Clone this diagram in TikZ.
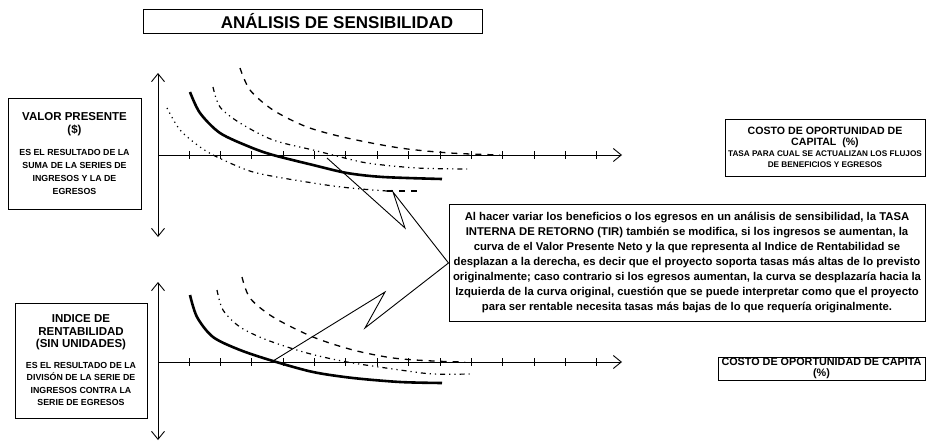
\documentclass[tikz,border=0pt]{standalone}
\usepackage{fontspec}
\setmainfont{Liberation Sans}
\usetikzlibrary{arrows.meta}
\tikzset{
	caja/.style={draw,line width=1pt,align=center,inner sep=1pt},
	eje/.style={line width=0.9pt},
	gruesa/.style={line width=2.6pt},
	rayada/.style={line width=1.3pt,dash pattern=on 6pt off 6pt},
	rayapunto/.style={line width=1.2pt,dash pattern=on 5pt off 4pt on 1.2pt off 4pt on 1.2pt off 4pt},
	punteada/.style={line width=1.2pt,dash pattern=on 1.2pt off 4pt},
	rayo/.style={line width=0.9pt}
}

\begin{document}
\begin{tikzpicture}[x=1pt,y=-1pt,>={Straight Barb[length=8pt,width=13pt]}]
\useasboundingbox (0,0) rectangle (927,442);

% titulo
\node [caja,minimum width=339pt,minimum height=24pt] (titulo) at (312.5,21) {};
\node [font=\fontsize{17}{20}\selectfont\bfseries] (titulotexto) at (337,21) {ANÁLISIS DE SENSIBILIDAD};

% cajas
\node [caja,minimum width=133pt,minimum height=111pt,font=\fontsize{8.8}{13}\selectfont\bfseries] (valor) at (74.5,153.5)
	{{\fontsize{11.5}{15}\selectfont VALOR PRESENTE}\\{\fontsize{11.5}{15}\selectfont (\$)}\\[9pt]
	ES EL RESULTADO DE LA\\SUMA DE LA SERIES DE\\INGRESOS Y LA DE\\EGRESOS};
\node [caja,minimum width=132pt,minimum height=115pt,font=\fontsize{8.8}{12.5}\selectfont\bfseries] (indice) at (81,360.5)
	{{\fontsize{11.5}{15}\selectfont INDICE DE}\\{\fontsize{11.5}{15}\selectfont RENTABILIDAD}\\{\fontsize{11.5}{15}\selectfont (SIN UNIDADES)}\\[8pt]
	ES EL RESULTADO DE LA\\DIVISÓN DE LA SERIE DE\\INGRESOS CONTRA LA\\SERIE DE EGRESOS};
\node [caja,minimum width=200pt,minimum height=57pt,font=\fontsize{8.2}{11}\selectfont\bfseries] (costoA) at (825,147.5)
	{{\fontsize{10.6}{12}\selectfont COSTO DE OPORTUNIDAD DE}\\{\fontsize{10.6}{12}\selectfont CAPITAL\ \ (\%)}\\
	TASA PARA CUAL SE ACTUALIZAN LOS FLUJOS\\DE BENEFICIOS Y EGRESOS};
\node [caja,minimum width=207pt,minimum height=23pt,font=\fontsize{10.8}{10.5}\selectfont\bfseries] (costoB) at (821.5,368.5)
	{COSTO DE OPORTUNIDAD DE CAPITA\\(\%)};
\node [caja,inner sep=0pt,minimum width=476pt,minimum height=117pt,font=\fontsize{11.3}{15}\selectfont\bfseries] (nota) at (687,263)
	{Al hacer variar los beneficios o los egresos en un análisis de sensibilidad, la TASA\\
	INTERNA DE RETORNO (TIR) también se modifica, si los ingresos se aumentan, la\\
	curva de el Valor Presente Neto y la que representa al Indice de Rentabilidad se\\
	desplazan a la derecha, es decir que el proyecto soporta tasas más altas de lo previsto\\
	originalmente; caso contrario si los egresos aumentan, la curva se desplazaría hacia la\\
	Izquierda de la curva original, cuestión que se puede interpretar como que el proyecto\\
	para ser rentable necesita tasas más bajas de lo que requería originalmente.};

% grafico de arriba
\draw [eje,<->] (158,237) -- (158,73);
\draw [eje,->] (158,155) -- (622,155);
\foreach \i in {0,...,13}
	\draw [eje] ({189+31.38*\i},151) -- ({189+31.38*\i},159);

\draw [gruesa] plot [smooth] coordinates {(190,92) (200,113) (220,133) (250,147) (273,155) (313,165) (347,173) (383,177) (442,179)};
\draw [punteada] plot [smooth] coordinates {(167,108) (180,130) (200,147) (213,155)};
\draw [rayapunto] plot [smooth] coordinates {(213,155) (253,172) (313,183) (350,188) (387,191)};
\draw [rayada] (387,191) -- (420,191);
\draw [rayapunto] plot [smooth] coordinates {(213,87) (220,107) (240,123) (273,140) (313,150) (333,155) (367,163) (417,168) (467,169)};
\draw [rayada] plot [smooth] coordinates {(240,68) (250,90) (273,110) (307,127) (347,138) (400,148) (450,153) (500,155)};

\coordinate (rayoA1) at (327,158);
\coordinate (rayoA2) at (405,228);
\coordinate (rayoA3) at (393,192);
\draw [rayo] (rayoA1) -- (rayoA2) -- (rayoA3) -- (nota.west);

% grafico de abajo
\draw [eje,<->] (158,440) -- (158,282);
\draw [eje,->] (158,362) -- (622,362);
\foreach \i in {0,...,13}
	\draw [eje] ({189+31.38*\i},358) -- ({189+31.38*\i},366);

\draw [gruesa] plot [smooth] coordinates {(190,295) (197,317) (213,337) (240,350) (273,361) (313,372) (353,378) (400,382) (442,383)};
\draw [rayapunto] plot [smooth] coordinates {(217,290) (223,310) (240,327) (267,340) (307,353) (347,362) (400,370) (433,374) (470,374)};
\draw [rayada] plot [smooth] coordinates {(242,277) (250,298) (273,317) (313,337) (353,350) (393,358) (433,361) (465,362)};

\coordinate (rayoB1) at (273,361);
\coordinate (rayoB2) at (385,292);
\coordinate (rayoB3) at (365,328);
\draw [rayo] (rayoB1) -- (rayoB2) -- (rayoB3) -- (nota.west);
\end{tikzpicture}
\end{document}
